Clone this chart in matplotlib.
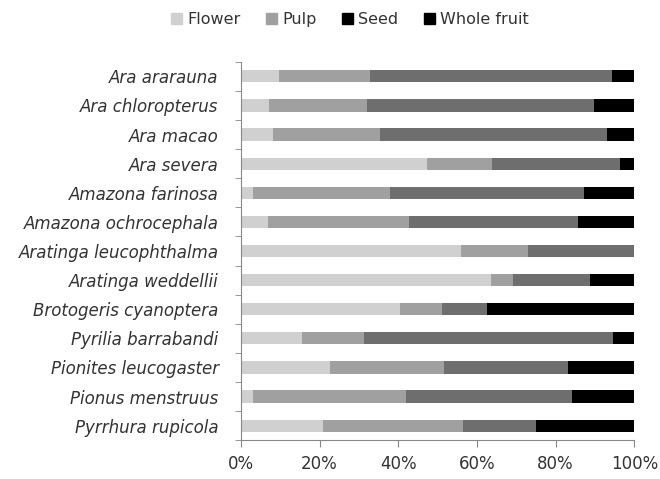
import numpy as np
import matplotlib
matplotlib.use("Agg")
import matplotlib.pyplot as plt
from matplotlib.patches import Patch

species = ['Ara ararauna', 'Ara chloropterus', 'Ara macao', 'Ara severa',
           'Amazona farinosa', 'Amazona ochrocephala', 'Aratinga leucophthalma',
           'Aratinga weddellii', 'Brotogeris cyanoptera', 'Pyrilia barrabandi',
           'Pionites leucogaster', 'Pionus menstruus', 'Pyrrhura rupicola']
flower = [9.6, 7.1, 8.2, 47.2, 3.1, 6.8, 55.9, 63.7, 40.4, 15.6, 22.7, 3.1, 20.8]
pulp = [23.1, 25.0, 27.1, 16.7, 34.7, 35.9, 17.0, 5.6, 10.6, 15.8, 28.9, 38.8, 35.7]
seed = [61.6, 57.7, 57.7, 32.4, 49.5, 42.9, 27.1, 19.5, 11.6, 63.3, 31.5, 42.2, 18.5]
whole = [5.7, 10.2, 7.0, 3.7, 12.7, 14.4, 0.0, 11.2, 37.4, 5.3, 16.9, 15.9, 25.0]

series = [('Flower', flower, '#d0d0d0'), ('Pulp', pulp, '#a0a0a0'),
          ('Seed', seed, '#6e6e6e'), ('Whole fruit', whole, '#000000')]
# the legend in the source shows the seed key in black
legend_colors = ['#d0d0d0', '#a0a0a0', '#000000', '#000000']

fig = plt.figure(figsize=(6.6, 4.79), dpi=100)
ax = fig.add_axes([0.365, 0.081, 0.596, 0.790])

y = np.arange(len(species))
left = np.zeros(len(species))
for name, vals, col in series:
    vals = np.array(vals)
    ax.barh(y, vals, left=left, height=0.42, color=col, label=name)
    left += vals

ax.set_xlim(0, 100)
ax.set_ylim(len(species) - 0.5, -0.5)
ax.set_yticks(y)
ax.set_yticklabels(species, fontstyle='italic', fontsize=12, color='#333333')
ax.set_yticks(np.arange(len(species) + 1) - 0.5, minor=True)
ax.tick_params(axis='y', which='major', length=0, pad=16)
ax.tick_params(axis='y', which='minor', length=4, direction='out', color='#888888')
ax.set_xticks(np.arange(0, 101, 20))
ax.set_xticklabels([f'{v}%' for v in range(0, 101, 20)], fontsize=12, color='#333333')
ax.tick_params(axis='x', length=5, direction='out', color='#888888', pad=6)

for s in ['top', 'right']:
    ax.spines[s].set_visible(False)
for s in ['left', 'bottom']:
    ax.spines[s].set_color('#888888')

handles = [Patch(color=c) for c in legend_colors]
fig.legend(handles, [s[0] for s in series], loc='upper center', bbox_to_anchor=(0.53, 1.005),
           ncol=4, frameon=False, fontsize=11.5, handlelength=0.7, handleheight=0.7,
           handletextpad=0.3, columnspacing=1.6, labelcolor='#333333')

fig.savefig('out.png', dpi=100)
